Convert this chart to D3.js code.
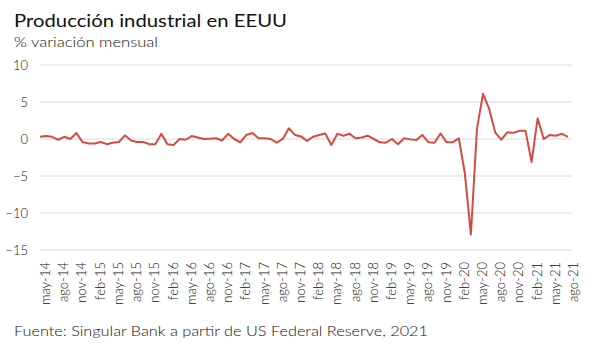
<!DOCTYPE html>
<html><head><meta charset="utf-8">
<script src="https://cdn.jsdelivr.net/npm/d3@7"></script>
<style>
html,body{margin:0;padding:0;background:#fff;}
svg{display:block;font-family:Lato, "Open Sans", sans-serif;}
</style></head>
<body><svg id="c" width="600" height="355"></svg>
<script>
const months = ["ene","feb","mar","abr","may","jun","jul","ago","sep","oct","nov","dic"];
// monthly categories may-14 .. ago-21
const categories = [];
for (let k = 0; k < 88; k++) {
  const m = (4 + k) % 12, y = 14 + Math.floor((4 + k) / 12);
  categories.push(months[m] + "-" + y);
}
const values = [
  0.3, 0.4, 0.3, -0.1, 0.3, 0.0, 0.8, -0.4, -0.6, -0.6, -0.4, -0.7,
  -0.5, -0.4, 0.5, -0.2, -0.4, -0.4, -0.7, -0.7, 0.7, -0.7, -0.8, 0.0,
  -0.1, 0.4, 0.2, 0.0, 0.05, 0.1, -0.2, 0.7, 0.0, -0.45, 0.55, 0.8,
  0.1, 0.1, 0.0, -0.5, 0.0, 1.45, 0.55, 0.35, -0.25, 0.3, 0.55, 0.75,
  -0.8, 0.7, 0.45, 0.7, 0.1, 0.2, 0.45, 0.0, -0.45, -0.5, 0.0, -0.7,
  0.1, -0.05, -0.15, 0.55, -0.45, -0.5, 0.75, -0.45, -0.45, 0.1, -4.6, -12.9,
  1.4, 6.1, 4.1, 0.9, -0.1, 0.9, 0.85, 1.1, 1.1, -3.1, 2.8, 0.0,
  0.55, 0.45, 0.7, 0.3
];
const yTicks = [10, 5, 0, -5, -10, -15];
const title = "Producción industrial en EEUU";
const subtitle = "% variación mensual";
const source = "Fuente: Singular Bank a partir de US Federal Reserve, 2021";

const svg = d3.select("#c");
const textColor = "#111";
const x = d3.scaleLinear().domain([0, categories.length - 1]).range([40, 568]);
const y = d3.scaleLinear().domain([-15, 10]).range([250, 65]);

function fit(sel, w) {
  const L = sel.node().getComputedTextLength();
  if (Math.abs(L - w) > 2) sel.attr("textLength", w).attr("lengthAdjust", "spacingAndGlyphs");
}

// gridlines
svg.append("g").selectAll("line").data(yTicks).join("line")
  .attr("x1", 40).attr("x2", 572)
  .attr("y1", d => y(d)).attr("y2", d => y(d))
  .attr("stroke", "#dadada").attr("stroke-width", 1);

// y axis labels
const ya = svg.append("g").attr("transform", "translate(28,0)")
  .call(d3.axisLeft(y).tickValues(yTicks).tickSize(0).tickPadding(0).tickFormat(d3.format("d")));
ya.select(".domain").remove();
ya.selectAll("text").attr("font-size", 13).attr("fill", textColor)
  .attr("font-family", "Lato, sans-serif").attr("font-weight", 300);

// x axis labels
const xa = svg.append("g").attr("transform", "translate(0,262)")
  .call(d3.axisBottom(x).tickValues(d3.range(0, categories.length, 3)).tickSize(0)
    .tickFormat(i => categories[i]));
xa.select(".domain").remove();
xa.selectAll("text")
  .attr("font-size", 13).attr("fill", textColor).attr("font-family", "Lato, sans-serif")
  .attr("font-weight", 300)
  .attr("text-anchor", "end")
  .attr("x", 0).attr("y", 0).attr("dx", 0).attr("dy", "0.35em")
  .attr("transform", "translate(5,0) rotate(-90)");

// line
svg.append("path").datum(values)
  .attr("fill", "none").attr("stroke", "#d64b40").attr("stroke-width", 2)
  .attr("stroke-linejoin", "round")
  .attr("d", d3.line().x((d, i) => x(i)).y(d => y(d)));

// titles
const t1 = svg.append("text").attr("x", 14).attr("y", 27).attr("font-size", 18)
  .attr("fill", "#111").attr("font-weight", 400).text(title);
fit(t1, 273);
const t2 = svg.append("text").attr("x", 14).attr("y", 47).attr("font-size", 14.5)
  .attr("fill", textColor).attr("font-weight", 300).text(subtitle);
fit(t2, 144);
const t3 = svg.append("text").attr("x", 14).attr("y", 336).attr("font-size", 14)
  .attr("fill", textColor).attr("font-weight", 300).text(source);
fit(t3, 414);
</script></body></html>
